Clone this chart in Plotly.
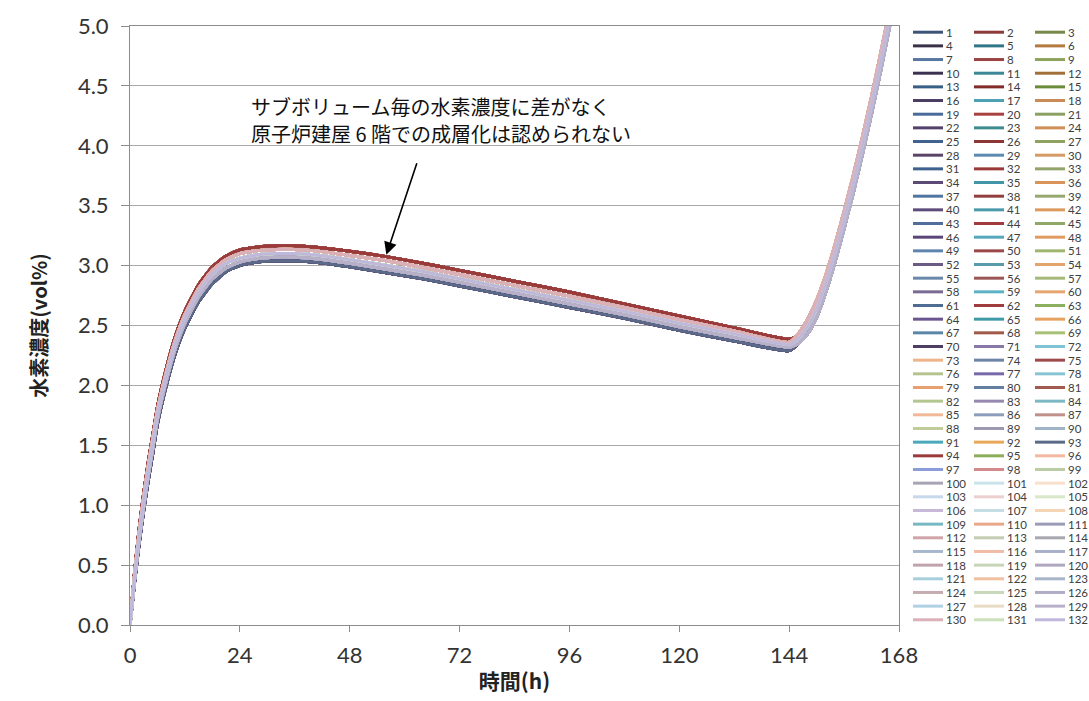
import plotly.graph_objects as go

# Elapsed time (h)
TIME_H = [0, 1, 2, 3, 4, 5, 6, 8, 10, 12, 15, 18, 21, 24, 28, 32, 36, 40, 48, 56,
          64, 72, 84, 96, 108, 120, 132, 144, 146, 148, 150, 152, 154, 156, 158,
          160, 162, 164, 166, 168]

# Hydrogen concentration (vol%) profiles; each sub-volume follows one of them
CONC_TOP = [0, 0.44, 0.80, 1.10, 1.36, 1.59, 1.82, 2.15, 2.42, 2.62, 2.84, 2.99, 3.08,
            3.13, 3.155, 3.165, 3.165, 3.155, 3.12, 3.075, 3.02, 2.96, 2.87, 2.78,
            2.68, 2.58, 2.48, 2.385, 2.42, 2.52, 2.67, 2.88, 3.13, 3.41, 3.71, 4.03,
            4.37, 4.73, 5.11, 5.51]
CONC_UPPER = [0, 0.42, 0.77, 1.07, 1.33, 1.56, 1.79, 2.12, 2.39, 2.59, 2.81, 2.96, 3.05,
              3.10, 3.125, 3.135, 3.135, 3.125, 3.085, 3.04, 2.985, 2.925, 2.835, 2.745,
              2.65, 2.55, 2.455, 2.36, 2.43, 2.55, 2.71, 2.92, 3.17, 3.45, 3.75, 4.07,
              4.41, 4.77, 5.15, 5.55]
CONC_MID = [0, 0.40, 0.74, 1.03, 1.29, 1.52, 1.76, 2.09, 2.36, 2.56, 2.78, 2.93, 3.02,
            3.06, 3.09, 3.10, 3.10, 3.09, 3.05, 3.00, 2.95, 2.89, 2.80, 2.71, 2.62,
            2.52, 2.43, 2.34, 2.39, 2.49, 2.64, 2.85, 3.10, 3.38, 3.68, 4.00, 4.34,
            4.70, 5.08, 5.48]
CONC_LOWER = [0, 0.38, 0.71, 0.99, 1.25, 1.48, 1.72, 2.05, 2.32, 2.52, 2.74, 2.89, 2.98,
              3.03, 3.06, 3.07, 3.07, 3.06, 3.02, 2.97, 2.92, 2.86, 2.77, 2.68, 2.59,
              2.49, 2.40, 2.32, 2.35, 2.43, 2.57, 2.78, 3.03, 3.31, 3.61, 3.93, 4.27,
              4.63, 5.01, 5.41]
CONC_BOTTOM = [0, 0.36, 0.68, 0.96, 1.21, 1.44, 1.68, 2.01, 2.28, 2.48, 2.70, 2.85, 2.95,
               3.00, 3.03, 3.04, 3.04, 3.03, 2.99, 2.94, 2.89, 2.83, 2.74, 2.65, 2.56,
               2.46, 2.37, 2.29, 2.35, 2.45, 2.60, 2.81, 3.06, 3.34, 3.64, 3.96, 4.30,
               4.66, 5.04, 5.44]
PROFILES = [CONC_TOP, CONC_UPPER, CONC_MID, CONC_LOWER, CONC_BOTTOM]

# Profile followed by sub-volumes 1..132
SUBVOLUME_PROFILE = [
    4, 0, 3, 4, 2, 1, 3, 0, 2, 4, 2, 1, 3, 0, 2, 4, 2, 1, 3, 0, 2, 4, 2, 1,
    3, 0, 2, 4, 3, 1, 3, 0, 2, 4, 2, 1, 3, 0, 2, 4, 2, 1, 3, 0, 2, 4, 2, 1,
    3, 0, 2, 4, 2, 1, 3, 0, 2, 4, 2, 1, 3, 0, 2, 4, 2, 1, 3, 0, 2, 4, 3, 2,
    1, 3, 0, 2, 3, 2, 1, 3, 0, 2, 3, 2, 1, 3, 1, 2, 3, 2, 2, 1, 4, 0, 2, 1,
    3, 1, 2, 3, 2, 1, 3, 1, 2, 3, 2, 1, 2, 1, 3, 1, 2, 3, 2, 1, 3, 1, 2, 3,
    2, 1, 3, 1, 2, 3, 2, 2, 3, 1, 2, 2,
]

SUBVOLUME_NAMES = [str(i) for i in range(1, 133)]

SUBVOLUME_COLORS = [
    "#3d5478", "#8c3b3b", "#76884a",
    "#3a3148", "#2f7686", "#b3793e",
    "#58779f", "#9b4343", "#8ea35d",
    "#3b3251", "#3c8797", "#a16f38",
    "#385f86", "#832a2a", "#6c8b38",
    "#4a3c62", "#4ba1b2", "#c98a55",
    "#4a6a9a", "#a84040", "#8aa060",
    "#54416b", "#3f8c8e", "#d18f58",
    "#41628f", "#8e3535", "#8fa262",
    "#5a4568", "#5d8ab0", "#d59a65",
    "#3e618e", "#9b3838", "#93a46a",
    "#5a4a75", "#4396a8", "#d99559",
    "#4f75a0", "#923e3e", "#96a870",
    "#5f4c7c", "#4b9aaa", "#dd9a5e",
    "#4f6f9a", "#a23b3b", "#8fa866",
    "#5a4578", "#55a8bb", "#e09c60",
    "#5f84b0", "#9a4848", "#9fb66e",
    "#6a5a86", "#5899ac", "#e3a46d",
    "#6a88aa", "#9b5656", "#a6b97a",
    "#7a6a94", "#5db3c5", "#e6a670",
    "#4f6d92", "#a03c3c", "#8db060",
    "#6a5590", "#3f9aa8", "#e8a260",
    "#5a86a8", "#a05a4a", "#a7c075",
    "#4d3e66", "#8878a8", "#7ec4d4",
    "#f0b48a", "#6e84a6", "#9e4a4a",
    "#b5c48e", "#7768a8", "#87c4d4",
    "#e8a070", "#6480a0", "#a05a50",
    "#b4c690", "#9688b0", "#7cb8c4",
    "#f2b898", "#8c9cbc", "#c0908a",
    "#c0cc9c", "#9c98b0", "#a0b4c8",
    "#4aa8bc", "#e8a858", "#5a6a88",
    "#9a3a3a", "#8cae5a", "#f4b8a0",
    "#8c9cd8", "#d28a8a", "#bccca4",
    "#a8a4b4", "#c8e4ea", "#f8e0cc",
    "#c8d8ec", "#ecd0d0", "#d8e8c8",
    "#c8b8d8", "#c4dce4", "#f4d4b4",
    "#78b8c4", "#eaa88a", "#9c9cb8",
    "#d0a4a8", "#c4ccb4", "#a8a8b0",
    "#a8b8cc", "#f0bca8", "#a8b0c8",
    "#c0a4ac", "#c8d4b8", "#b0a8c0",
    "#a8d0dc", "#f0c0a0", "#a8b4c8",
    "#c4acb0", "#c8d8bc", "#b0acc4",
    "#b0d0e4", "#e8dcc4", "#b8b0c8",
    "#dcb0b8", "#cce0bc", "#c0b8dc",
]

X_TICKS = [0, 24, 48, 72, 96, 120, 144, 168]
X_TITLE = "時間(h)"
Y_TITLE = "水素濃度(vol%)"
NOTE_LINES = ["サブボリューム毎の水素濃度に差がなく", "原子炉建屋 6 階での成層化は認められない"]
NOTE_Y = [4.33, 4.10]

# ---- page geometry (pixels) ----
W, H = 1089, 701
M_L, M_R, M_T, M_B = 130, 190, 18, 75
PW = W - M_L - M_R
PH = H - M_T - M_B


def px_to_paper_x(px):
    return (px - M_L) / PW


def px_to_paper_y(py):
    return (H - M_B - py) / PH


fig = go.Figure()

for name, color, prof in zip(SUBVOLUME_NAMES, SUBVOLUME_COLORS, SUBVOLUME_PROFILE):
    fig.add_trace(go.Scatter(
        x=TIME_H, y=PROFILES[prof], mode="lines", name=name,
        line=dict(color=color, width=3, shape="spline", smoothing=0.5),
        showlegend=False, hoverinfo="x+y+name",
    ))

# Three-column legend drawn at the right of the plot
shapes = []
annotations = []
LEG_COL_X = [913, 974, 1035]
LEG_SWATCH = 30
LEG_ROW0 = 24.3
LEG_ROW_STEP = 13.87
for idx, (name, color) in enumerate(zip(SUBVOLUME_NAMES, SUBVOLUME_COLORS)):
    row, col = divmod(idx, 3)
    py = LEG_ROW0 + row * LEG_ROW_STEP
    x0 = LEG_COL_X[col]
    shapes.append(dict(
        type="line", xref="paper", yref="paper",
        x0=px_to_paper_x(x0), x1=px_to_paper_x(x0 + LEG_SWATCH),
        y0=px_to_paper_y(py), y1=px_to_paper_y(py),
        line=dict(color=color, width=3),
    ))
    annotations.append(dict(
        xref="paper", yref="paper",
        x=px_to_paper_x(x0 + LEG_SWATCH + 1), y=px_to_paper_y(py),
        xanchor="left", yanchor="middle", showarrow=False,
        text=name, font=dict(family="Lato, Open Sans, sans-serif", size=11.5, color="#404040"),
    ))

# Comment text and arrow pointing at the curve bundle
for line_text, line_y in zip(NOTE_LINES, NOTE_Y):
    annotations.append(dict(
        x=26, y=line_y, xref="x", yref="y", xanchor="left", yanchor="middle",
        align="left", showarrow=False, text=line_text,
        font=dict(family="Noto Sans CJK JP", size=20, color="#111111"),
    ))
annotations.append(dict(
    x=56, y=3.09, xref="x", yref="y", text="", showarrow=True,
    ax=31, ay=-93, axref="pixel", ayref="pixel",
    arrowhead=2, arrowsize=1.6, arrowwidth=1.6, arrowcolor="#000000",
))

fig.update_layout(
    width=W, height=H,
    margin=dict(l=M_L, r=M_R, t=M_T, b=M_B, pad=0),
    paper_bgcolor="white", plot_bgcolor="white",
    showlegend=False,
    shapes=shapes, annotations=annotations,
    font=dict(family="Lato, Open Sans, sans-serif"),
)

fig.update_xaxes(
    range=[0, 168], tickvals=X_TICKS, showgrid=False, zeroline=False,
    showline=True, linecolor="#8c8c8c", linewidth=1, mirror=True,
    ticks="outside", ticklen=6, tickcolor="#8c8c8c",
    tickfont=dict(family="Lato, Open Sans, sans-serif", size=22, color="#333333"),
    ticklabelstandoff=5,
    title=dict(text=X_TITLE, standoff=6,
               font=dict(family="Noto Sans CJK JP", size=21, color="#222222", weight="bold")),
)
fig.update_yaxes(
    range=[0, 5], dtick=0.5, tickformat=".1f", zeroline=False,
    showgrid=True, gridcolor="#a8a8a8", gridwidth=1,
    showline=True, linecolor="#8c8c8c", linewidth=1, mirror=True,
    ticks="outside", ticklen=8, tickcolor="#8c8c8c",
    tickfont=dict(family="Lato, Open Sans, sans-serif", size=22, color="#333333"),
    ticklabelstandoff=8,
    title=dict(text=Y_TITLE, standoff=24,
               font=dict(family="Noto Sans CJK JP", size=20, color="#222222", weight="bold")),
)

fig.write_html("out.html")
